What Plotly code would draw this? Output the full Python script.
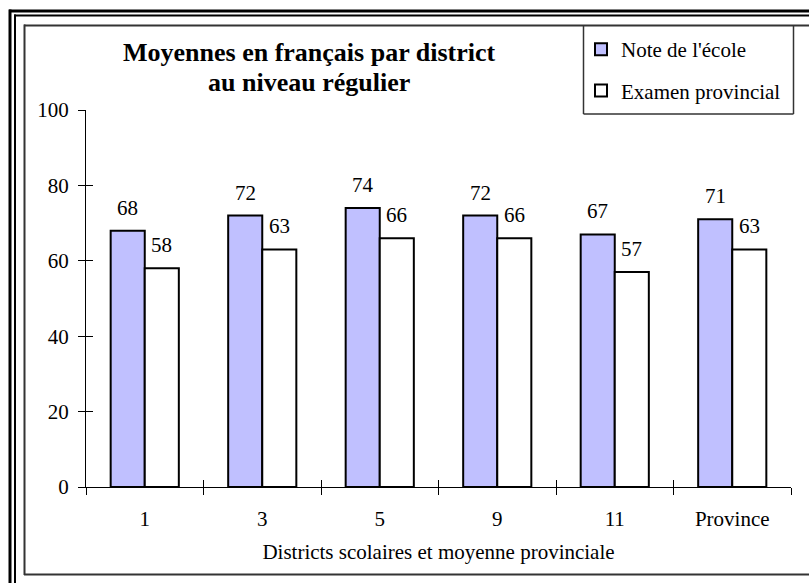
import plotly.graph_objects as go

categories = ["1", "3", "5", "9", "11", "Province"]
note_ecole = [68, 72, 74, 72, 67, 71]
examen_prov = [58, 63, 66, 66, 57, 63]
y_ticks = [0, 20, 40, 60, 80, 100]
series_names = ["Note de l'école", "Examen provincial"]
title_lines = ["Moyennes en français par district", "au niveau régulier"]
x_title = "Districts scolaires et moyenne provinciale"

W, H = 809, 583
L, R, T, B = 86, 791, 110, 487  # plot area in px


def px(x):
    return (x - L) / (R - L)


def py(y):
    return (B - y) / (B - T)


BARGAP = 0.42
FONT = "Liberation Serif"
FS = 21

fig = go.Figure()
fig.add_bar(x=categories, y=note_ecole, name=series_names[0], legendgroup="a",
            marker=dict(color="#C0C0FF", line=dict(color="black", width=2)),
            hoverinfo="skip")
fig.add_bar(x=categories, y=examen_prov, name=series_names[1], legendgroup="b",
            marker=dict(color="white", line=dict(color="black", width=2)),
            hoverinfo="skip")
# invisible helper trace so overlay axes (for crossing ticks) are drawn
fig.add_scatter(x=categories, y=[None] * len(categories), xaxis="x2", yaxis="y2",
                mode="markers", showlegend=False, hoverinfo="skip")

off = (1 - BARGAP) / 4
annotations = []
for i, (a, b) in enumerate(zip(note_ecole, examen_prov)):
    for xv, v in ((i - off, a), (i + off, b)):
        annotations.append(dict(x=xv, y=v, xref="x", yref="y", text=str(v),
                                showarrow=False, yanchor="middle", yshift=23,
                                font=dict(family=FONT, size=FS, color="black")))
for line, ypx in zip(title_lines, (52, 83)):
    annotations.append(dict(x=px(309), y=py(ypx), xref="paper", yref="paper",
                            text=line, showarrow=False,
                            xanchor="center", yanchor="middle",
                            font=dict(family=FONT, size=26, color="black",
                                      weight="bold")))


def hline(x0, x1, y, w, c="black"):
    return dict(type="line", xref="paper", yref="paper", x0=px(x0), x1=px(x1),
                y0=py(y), y1=py(y), line=dict(color=c, width=w))


def vline(x, y0, y1, w, c="black"):
    return dict(type="line", xref="paper", yref="paper", x0=px(x), x1=px(x),
                y0=py(y0), y1=py(y1), line=dict(color=c, width=w))


shapes = [
    hline(9, 820, 11, 3), vline(10, 9.5, 600, 3),
    hline(14, 820, 15.5, 2), vline(15, 14.5, 600, 2),
    hline(24, 820, 25.5, 2, "#333333"), vline(24.5, 24.5, 575, 2, "#333333"),
    hline(24, 820, 574.5, 2, "#333333"),
    vline(583.5, 25.5, 114, 1.5, "#333333"), vline(793.5, 25.5, 114, 1.5, "#333333"),
    hline(583.5, 793.5, 114, 1.5, "#333333"),
]

fig.update_layout(
    width=W, height=H,
    margin=dict(l=L, r=W - R, t=T, b=H - B, pad=0),
    paper_bgcolor="white", plot_bgcolor="white",
    font=dict(family=FONT, size=FS, color="black"),
    barmode="group", bargap=BARGAP, bargroupgap=0,
    showlegend=True,
    legend=dict(x=px(581), y=py(29), xanchor="left", yanchor="top",
                bgcolor="rgba(0,0,0,0)", borderwidth=0,
                font=dict(family=FONT, size=FS, color="black"),
                traceorder="grouped", tracegroupgap=11, itemwidth=30),
    annotations=annotations,
    shapes=shapes,
    hovermode=False,
    xaxis=dict(type="category", categoryorder="array", categoryarray=categories,
               range=[-0.5, len(categories) - 0.5], tickson="boundaries",
               ticks="outside", ticklen=7, tickwidth=1, tickcolor="black",
               showline=True, linecolor="black", linewidth=1, showgrid=False,
               zeroline=False, tickfont=dict(family=FONT, size=FS),
               ticklabelstandoff=13,
               title=dict(text=x_title, standoff=14,
                          font=dict(family=FONT, size=FS))),
    yaxis=dict(range=[0, 100], tickvals=y_ticks, ticks="outside", ticklen=7,
               tickwidth=1, tickcolor="black", showline=True, linecolor="black",
               linewidth=1, showgrid=False, zeroline=False,
               tickfont=dict(family=FONT, size=FS), ticklabelstandoff=5),
    xaxis2=dict(type="category", categoryorder="array", categoryarray=categories,
                range=[-0.5, len(categories) - 0.5], tickson="boundaries",
                overlaying="x", anchor="y2", side="bottom",
                ticks="inside", ticklen=7, tickwidth=1, tickcolor="black",
                showticklabels=False, showline=False, showgrid=False,
                zeroline=False),
    yaxis2=dict(range=[0, 100], tickvals=y_ticks, overlaying="y", anchor="x2",
                side="left", ticks="inside", ticklen=7, tickwidth=1,
                tickcolor="black", showticklabels=False, showline=False,
                showgrid=False, zeroline=False),
)

fig.write_html("out.html", config={"displayModeBar": False},
               post_script="document.body.style.margin='0';"
                           "document.body.style.padding='0';")
